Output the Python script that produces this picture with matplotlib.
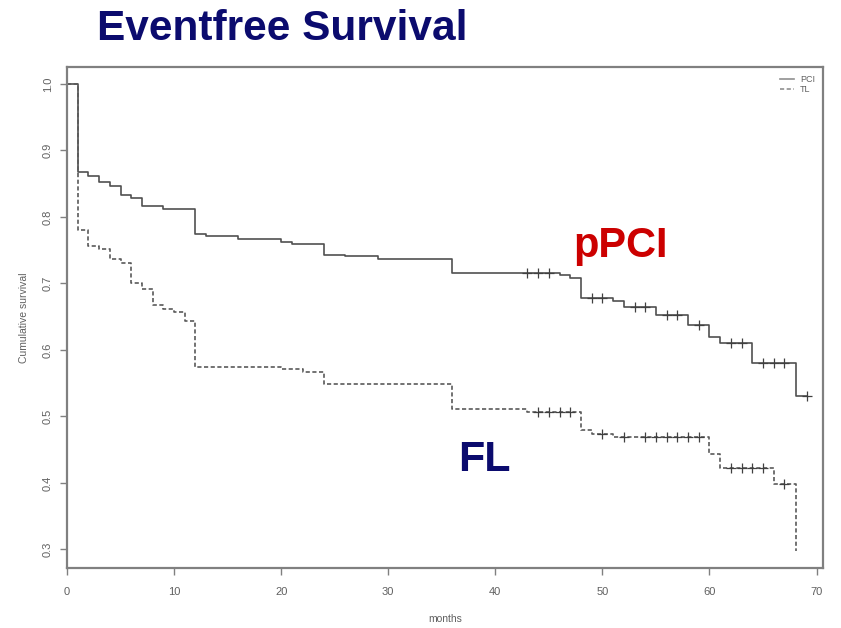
import matplotlib
matplotlib.use("Agg")
import matplotlib.pyplot as plt
import numpy as np

plt.rcParams.update({
    "font.family": ["Liberation Sans", "DejaVu Sans"],
    "figure.dpi": 100,
})

NAVY = "#0b0b6e"
RED = "#cc0000"
AXIS_GRAY = "#808080"
TEXT_GRAY = "#606060"

# PCI group (solid line): event times and survival after each step
pci_times = [0, 1, 2, 3, 4, 5, 6, 7, 9, 12, 13, 16, 20, 21, 24, 26, 29, 36,
             46, 47, 48, 51, 52, 55, 58, 60, 61, 64, 68.1]
pci_surv = [1.0, 0.868, 0.861, 0.853, 0.847, 0.833, 0.829, 0.817, 0.812,
            0.775, 0.771, 0.767, 0.763, 0.760, 0.743, 0.741, 0.737, 0.716,
            0.712, 0.708, 0.678, 0.674, 0.664, 0.652, 0.638, 0.620, 0.610,
            0.580, 0.530]
pci_end = 69.1
pci_censor = [43, 44, 45, 49, 50, 53, 54, 56, 57, 59, 62, 63, 65, 66, 67, 69.1]

# TL group (dashed line)
tl_times = [0, 1, 2, 3, 4, 5, 6, 7, 8, 9, 10, 11, 12, 20, 22, 24, 36, 43,
            48, 49, 51, 60, 61, 66, 68.1]
tl_surv = [1.0, 0.780, 0.757, 0.752, 0.736, 0.730, 0.700, 0.692, 0.668,
           0.662, 0.657, 0.643, 0.574, 0.571, 0.567, 0.548, 0.511, 0.507,
           0.480, 0.474, 0.469, 0.444, 0.423, 0.399, 0.298]
tl_end = 68.1
tl_censor = [44, 45, 46, 47, 50, 52, 54, 55, 56, 57, 58, 59, 62, 63, 64, 65, 67]

x_ticks = [0, 10, 20, 30, 40, 50, 60, 70]
y_ticks = [0.3, 0.4, 0.5, 0.6, 0.7, 0.8, 0.9, 1.0]


def step_value(times, surv, t):
    idx = np.searchsorted(times, t, side="right") - 1
    return surv[idx]


fig = plt.figure(figsize=(8.41, 6.28))
ax = fig.add_axes([67 / 841, 1 - 568 / 628, (823 - 67) / 841, (568 - 67) / 628])

for times, surv, end, cens, ls, col, lab in [
    (pci_times, pci_surv, pci_end, pci_censor, "-", "#505050", "PCI"),
    (tl_times, tl_surv, tl_end, tl_censor, (0, (2.5, 1.5)), "#5a5a5a", "TL"),
]:
    xs = list(times) + [end]
    ys = list(surv) + [surv[-1]]
    ax.step(xs, ys, where="post", color=col, lw=1.2, ls=ls, label=lab)
    cy = [step_value(times, surv, c) for c in cens]
    ax.plot(cens, cy, "+", color="#404040", ms=7, mew=0.9, ls="none")

ax.set_xlim(0, 70.6)
ax.set_ylim(0.272, 1.0255)
ax.set_xticks(x_ticks)
ax.set_yticks(y_ticks)
ax.set_xticklabels([str(v) for v in x_ticks])
ax.set_yticklabels([f"{v:.1f}" for v in y_ticks], rotation=90, va="center")
ax.tick_params(axis="both", colors=AXIS_GRAY, labelcolor=TEXT_GRAY,
               labelsize=8, length=5, width=1)
ax.tick_params(axis="x", pad=9)
ax.tick_params(axis="y", pad=5)
for s in ax.spines.values():
    s.set_color(AXIS_GRAY)
    s.set_linewidth(1.6)

ax.set_xlabel("months", fontsize=7.5, color=TEXT_GRAY, labelpad=12)
ax.set_ylabel("Cumulative survival", fontsize=7.5, color=TEXT_GRAY, labelpad=10)

leg = ax.legend(loc="upper right", frameon=False, fontsize=6.5,
                handlelength=1.6, handletextpad=0.6, labelspacing=0.15,
                borderaxespad=0.5, labelcolor=TEXT_GRAY)
for h in leg.get_lines():
    h.set_color("#909090")

fig.text(97 / 841, 1 - 29 / 628, "Eventfree Survival", fontsize=30.5,
         fontweight="bold", color=NAVY, ha="left", va="center")
fig.text(573 / 841, 1 - 246 / 628, "pPCI", fontsize=30, fontweight="bold",
         color=RED, ha="left", va="center")
fig.text(458 / 841, 1 - 460 / 628, "FL", fontsize=31, fontweight="bold",
         color=NAVY, ha="left", va="center")

fig.savefig("out.png", dpi=100)
